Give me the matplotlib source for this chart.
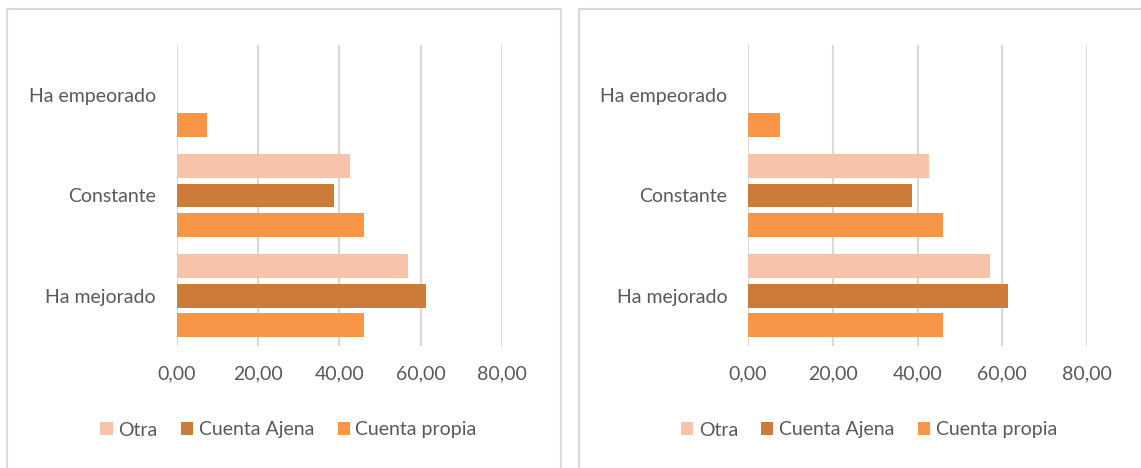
import numpy as np
import matplotlib.pyplot as plt
from matplotlib.patches import Rectangle, Patch

# Data (same data in both panels)
categories = ['Ha mejorado', 'Constante', 'Ha empeorado']
otra = [57.0, 42.6, 0.0]
cuenta_ajena = [61.3, 38.6, 0.0]
cuenta_propia = [46.0, 46.0, 7.6]
series_names = ['Otra', 'Cuenta Ajena', 'Cuenta propia']
xticks = [0, 20, 40, 60, 80]

colors = ['#F8C4A9', '#CD7B38', '#F79646']
grid_color = '#D9D9D9'
text_color = '#595959'

plt.rcParams['font.family'] = ['Lato', 'DejaVu Sans']

fig = plt.figure(figsize=(11.41, 4.68), dpi=100)
W, H = 1141, 468


def px_axes(x0, x1, y_top, y_bot):
    return [x0 / W, 1 - y_bot / H, (x1 - x0) / W, (y_bot - y_top) / H]


def draw_panel(ax):
    y = np.arange(len(categories))
    offs = 0.294
    bh = 0.236
    for vals, off, c, name in zip([otra, cuenta_ajena, cuenta_propia],
                                  [offs, 0, -offs], colors, series_names):
        ax.barh(y + off, vals, height=bh, color=c, linewidth=0,
                label=name, zorder=3)
    ax.set_xlim(0, 80)
    ax.set_ylim(-0.5, 2.5)
    ax.set_xticks(xticks)
    ax.set_xticklabels([f'{v:.2f}'.replace('.', ',') for v in xticks])
    ax.set_yticks(y)
    ax.set_yticklabels(categories)
    ax.grid(axis='x', color=grid_color, linewidth=1.5, zorder=0)
    for s in ax.spines.values():
        s.set_visible(False)
    ax.tick_params(axis='both', length=0, colors=text_color, labelsize=14)
    ax.tick_params(axis='x', pad=14)
    ax.tick_params(axis='y', pad=15)


panels = [
    # panel box (x0, x1), axes (x0, x1)
    ((7, 561), (176.5, 502)),
    ((579, 1150), (748, 1087)),
]

for (bx0, bx1), (ax0, ax1) in panels:
    fig.patches.append(Rectangle((bx0 / W, -0.05), (bx1 - bx0) / W, 1.05 - 9 / H,
                                 transform=fig.transFigure, fill=False,
                                 edgecolor=grid_color, linewidth=1.5))
    ax = fig.add_axes(px_axes(ax0, ax1, 45, 346))
    draw_panel(ax)
    handles = [Patch(facecolor=c, edgecolor='none') for c in colors]
    fig.legend(handles, series_names, loc='center',
               bbox_to_anchor=((bx0 + bx1) / 2 / W + 0.004, 1 - 430 / H),
               ncol=3, frameon=False, fontsize=14, labelcolor=text_color,
               handlelength=0.62, handleheight=0.62, handletextpad=0.3,
               columnspacing=1.2)

fig.savefig('out.png', dpi=100)
